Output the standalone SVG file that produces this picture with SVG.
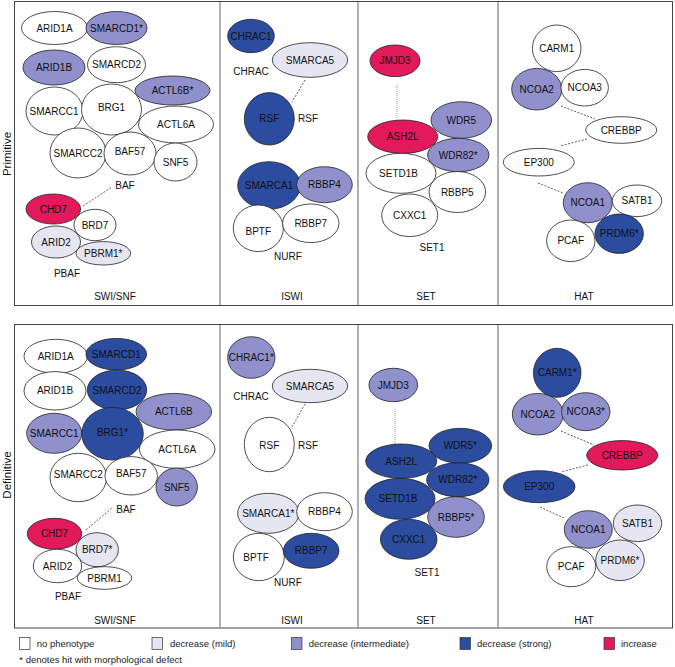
<svg xmlns="http://www.w3.org/2000/svg" width="675" height="667" viewBox="0 0 675 667">
<style>
.bg{fill:#fff}
.frame{fill:none;stroke:#444;stroke-width:1}
.div{stroke:#888;stroke-width:1.3}
ellipse{stroke:#222;stroke-width:0.8}
.n0{fill:#fff}
.n1{fill:#e6e6f3}
.n2{fill:#8f90cc}
.n3{fill:#2b4c9f}
.n4{fill:#e2195b}
text{font-family:"Liberation Sans",Arial,sans-serif;font-size:10px;fill:#111;text-anchor:middle}
.lab{font-size:10px}
.side{font-size:11.5px}
.leg{font-size:9.5px;text-anchor:start;fill:#222}
.con line{stroke:#333;stroke-width:0.8;stroke-dasharray:2,1.5}
.con line.dot{stroke:#777;stroke-dasharray:1,1}
.sw{stroke:#333;stroke-width:0.7}
</style>
<rect class="bg" x="0" y="0" width="675" height="667"/>
<!-- panels -->
<g id="panel-primitive">
<rect class="frame" x="14.5" y="1.5" width="658" height="304"/>
<line class="div" x1="220" y1="2" x2="220" y2="305"/>
<line class="div" x1="358" y1="2" x2="358" y2="305"/>
<line class="div" x1="498" y1="2" x2="498" y2="305"/>
<text class="side" transform="translate(11,154) rotate(-90)">Primitive</text>
<text class="lab" x="115" y="300">SWI/SNF</text>
<text class="lab" x="292" y="300">ISWI</text>
<text class="lab" x="426" y="300">SET</text>
<text class="lab" x="584" y="300">HAT</text>
<text class="lab" x="125" y="189">BAF</text>
<text class="lab" x="67" y="277">PBAF</text>
<text class="lab" x="251" y="75">CHRAC</text>
<text class="lab" x="308" y="122">RSF</text>
<text class="lab" x="288" y="260">NURF</text>
<text class="lab" x="432" y="251">SET1</text>
</g>
<g id="panel-definitive">
<rect class="frame" x="14.5" y="324.5" width="658" height="303.5"/>
<line class="div" x1="220" y1="325" x2="220" y2="627.5"/>
<line class="div" x1="358" y1="325" x2="358" y2="627.5"/>
<line class="div" x1="498" y1="325" x2="498" y2="627.5"/>
<text class="side" transform="translate(11,475) rotate(-90)">Definitive</text>
<text class="lab" x="115" y="624">SWI/SNF</text>
<text class="lab" x="292" y="624">ISWI</text>
<text class="lab" x="426" y="624">SET</text>
<text class="lab" x="584" y="624">HAT</text>
<text class="lab" x="126" y="513">BAF</text>
<text class="lab" x="68" y="600">PBAF</text>
<text class="lab" x="251" y="400">CHRAC</text>
<text class="lab" x="308" y="449">RSF</text>
<text class="lab" x="288" y="586">NURF</text>
<text class="lab" x="427" y="576">SET1</text>
</g>
<!-- connectors -->
<g id="connectors" class="con">
<line x1="83" y1="206" x2="112" y2="187"/>
<line x1="305" y1="80" x2="292" y2="102"/>
<line class="dot" x1="397" y1="85" x2="397" y2="118"/>
<line x1="561" y1="106" x2="595" y2="119"/>
<line x1="587" y1="139" x2="560" y2="146"/>
<line x1="538" y1="183" x2="563" y2="193"/>
<line x1="86" y1="530" x2="112" y2="508"/>
<line x1="305" y1="404" x2="292" y2="427"/>
<line class="dot" x1="395" y1="409" x2="395" y2="444"/>
<line x1="561" y1="431" x2="594" y2="445"/>
<line x1="588" y1="465" x2="561" y2="472"/>
<line x1="540" y1="507" x2="564" y2="518"/>
</g>
<!-- Primitive SWI/SNF -->
<g id="p-ARID1A"><ellipse class="n0" cx="54.5" cy="28" rx="33" ry="16.5"/><text x="54.5" y="31.5">ARID1A</text></g>
<g id="p-SMARCD1"><ellipse class="n2" cx="116.5" cy="28" rx="30.5" ry="16.5"/><text x="116.5" y="31.5">SMARCD1*</text></g>
<g id="p-ARID1B"><ellipse class="n2" cx="54" cy="67.5" rx="31" ry="17.5"/><text x="54" y="71">ARID1B</text></g>
<g id="p-SMARCD2"><ellipse class="n0" cx="116.5" cy="64.7" rx="29" ry="18"/><text x="116.5" y="68.2">SMARCD2</text></g>
<g id="p-ACTL6B"><ellipse class="n2" cx="172.5" cy="90.5" rx="37.5" ry="14.5"/><text x="172.5" y="94">ACTL6B*</text></g>
<g id="p-SMARCC1"><ellipse class="n0" cx="54.5" cy="111" rx="28.5" ry="24"/><text x="54" y="114.5">SMARCC1</text></g>
<g id="p-BRG1"><ellipse class="n0" cx="111.5" cy="109.5" rx="30" ry="25.5"/><text x="111.5" y="111">BRG1</text></g>
<g id="p-ACTL6A"><ellipse class="n0" cx="176" cy="124.5" rx="37.5" ry="18.5"/><text x="176" y="128">ACTL6A</text></g>
<g id="p-SMARCC2"><ellipse class="n0" cx="78" cy="153" rx="28" ry="25"/><text x="78" y="156.5">SMARCC2</text></g>
<g id="p-BAF57"><ellipse class="n0" cx="130" cy="153.5" rx="26" ry="21.5"/><text x="130" y="155">BAF57</text></g>
<g id="p-SNF5"><ellipse class="n0" cx="175.5" cy="162" rx="21.5" ry="19"/><text x="175.5" y="165.5">SNF5</text></g>
<g id="p-CHD7"><ellipse class="n4" cx="53.3" cy="209" rx="27.3" ry="15"/><text x="53.3" y="212.5">CHD7</text></g>
<g id="p-BRD7"><ellipse class="n0" cx="95" cy="225" rx="21" ry="15.7"/><text x="95" y="228.5">BRD7</text></g>
<g id="p-ARID2"><ellipse class="n1" cx="56" cy="242" rx="24.5" ry="16"/><text x="56" y="245.5">ARID2</text></g>
<g id="p-PBRM1"><ellipse class="n1" cx="103.3" cy="253.3" rx="27.3" ry="11.7"/><text x="103.3" y="256.8">PBRM1*</text></g>
<!-- Primitive ISWI -->
<g id="p-CHRAC1"><ellipse class="n3" cx="251" cy="36" rx="23.3" ry="16.7"/><text x="251" y="39.5">CHRAC1</text></g>
<g id="p-SMARCA5"><ellipse class="n1" cx="310" cy="60" rx="37.7" ry="17.3"/><text x="310" y="63.5">SMARCA5</text></g>
<g id="p-RSF"><ellipse class="n3" cx="269.3" cy="118.8" rx="25" ry="26.2"/><text x="269.3" y="122.3">RSF</text></g>
<g id="p-SMARCA1"><ellipse class="n3" cx="269" cy="185.5" rx="31.3" ry="23.8"/><text x="269" y="189">SMARCA1</text></g>
<g id="p-RBBP4"><ellipse class="n2" cx="324.5" cy="184.7" rx="27.8" ry="18"/><text x="324.5" y="188.2">RBBP4</text></g>
<g id="p-BPTF"><ellipse class="n0" cx="258.3" cy="228.3" rx="25" ry="23.3"/><text x="258.3" y="235">BPTF</text></g>
<g id="p-RBBP7"><ellipse class="n0" cx="310.8" cy="223.3" rx="28.2" ry="19.3"/><text x="310.8" y="226.8">RBBP7</text></g>
<!-- Primitive SET -->
<g id="p-JMJD3"><ellipse class="n4" cx="395" cy="60.8" rx="25" ry="15.8"/><text x="395" y="64.3">JMJD3</text></g>
<g id="p-WDR5"><ellipse class="n2" cx="461.3" cy="120" rx="30.3" ry="18.3"/><text x="461.3" y="123.5">WDR5</text></g>
<g id="p-ASH2L"><ellipse class="n4" cx="402.7" cy="136.7" rx="35" ry="16.7"/><text x="402.7" y="140.2">ASH2L</text></g>
<g id="p-WDR82"><ellipse class="n2" cx="458.3" cy="155" rx="30.7" ry="16.7"/><text x="458.3" y="158.5">WDR82*</text></g>
<g id="p-SETD1B"><ellipse class="n0" cx="401" cy="173.3" rx="35" ry="20"/><text x="398.5" y="176.8">SETD1B</text></g>
<g id="p-RBBP5"><ellipse class="n0" cx="457.3" cy="192" rx="28.3" ry="20.5"/><text x="457.3" y="195.5">RBBP5</text></g>
<g id="p-CXXC1"><ellipse class="n0" cx="409.7" cy="215.3" rx="28" ry="21.3"/><text x="409.7" y="218.8">CXXC1</text></g>
<!-- Primitive HAT -->
<g id="p-CARM1"><ellipse class="n0" cx="556.7" cy="48.3" rx="24.3" ry="23.3"/><text x="556.7" y="51.8">CARM1</text></g>
<g id="p-NCOA2"><ellipse class="n2" cx="536.7" cy="89.2" rx="25" ry="20.8"/><text x="536.7" y="92.7">NCOA2</text></g>
<g id="p-NCOA3"><ellipse class="n0" cx="584.7" cy="87.7" rx="23.7" ry="18.3"/><text x="584.7" y="91.2">NCOA3</text></g>
<g id="p-CREBBP"><ellipse class="n0" cx="621.2" cy="130" rx="35.5" ry="13.3"/><text x="621.2" y="133.5">CREBBP</text></g>
<g id="p-EP300"><ellipse class="n0" cx="538.8" cy="162.2" rx="35.5" ry="13.8"/><text x="538.8" y="165.7">EP300</text></g>
<g id="p-NCOA1"><ellipse class="n2" cx="587.8" cy="202.7" rx="24.5" ry="20"/><text x="587.8" y="206.2">NCOA1</text></g>
<g id="p-SATB1"><ellipse class="n0" cx="637" cy="200.8" rx="24.7" ry="15.8"/><text x="637" y="204.3">SATB1</text></g>
<g id="p-PCAF"><ellipse class="n0" cx="570.8" cy="240.8" rx="24.2" ry="20.8"/><text x="570.8" y="244.3">PCAF</text></g>
<g id="p-PRDM6"><ellipse class="n3" cx="619.2" cy="233.7" rx="24.2" ry="19.7"/><text x="619.2" y="237.2">PRDM6*</text></g>
<!-- Definitive SWI/SNF -->
<g id="d-ARID1A"><ellipse class="n0" cx="55.7" cy="356.3" rx="31.7" ry="17"/><text x="55.7" y="359.8">ARID1A</text></g>
<g id="d-SMARCD1"><ellipse class="n3" cx="116.3" cy="354.2" rx="30.3" ry="15.8"/><text x="116.3" y="357.7">SMARCD1</text></g>
<g id="d-ARID1B"><ellipse class="n0" cx="55" cy="390.8" rx="31" ry="19.2"/><text x="55" y="394.3">ARID1B</text></g>
<g id="d-SMARCD2"><ellipse class="n3" cx="117" cy="390" rx="29.7" ry="20"/><text x="117" y="393.5">SMARCD2</text></g>
<g id="d-ACTL6B"><ellipse class="n2" cx="173.8" cy="411.7" rx="37.8" ry="18.3"/><text x="173.8" y="415.2">ACTL6B</text></g>
<g id="d-SMARCC1"><ellipse class="n2" cx="54.2" cy="433.3" rx="27.5" ry="20"/><text x="54.2" y="436.8">SMARCC1</text></g>
<g id="d-BRG1"><ellipse class="n3" cx="112.5" cy="433.7" rx="30.8" ry="26.3"/><text x="112.5" y="435.5">BRG1*</text></g>
<g id="d-ACTL6A"><ellipse class="n0" cx="177.2" cy="449.2" rx="37.8" ry="19.2"/><text x="177.2" y="452.7">ACTL6A</text></g>
<g id="d-SMARCC2"><ellipse class="n0" cx="78.3" cy="477.5" rx="28.3" ry="24.2"/><text x="78.3" y="478">SMARCC2</text></g>
<g id="d-BAF57"><ellipse class="n0" cx="131.2" cy="475.8" rx="26.2" ry="19.2"/><text x="131.2" y="477">BAF57</text></g>
<g id="d-SNF5"><ellipse class="n2" cx="176.7" cy="487" rx="20.7" ry="19"/><text x="176.7" y="490.5">SNF5</text></g>
<g id="d-CHD7"><ellipse class="n4" cx="54.5" cy="533.8" rx="27.2" ry="15.5"/><text x="54.5" y="537.3">CHD7</text></g>
<g id="d-BRD7"><ellipse class="n1" cx="97.2" cy="549.7" rx="21.2" ry="17"/><text x="97.2" y="553.2">BRD7*</text></g>
<g id="d-ARID2"><ellipse class="n0" cx="57.5" cy="566" rx="24.2" ry="16.7"/><text x="57.5" y="569.5">ARID2</text></g>
<g id="d-PBRM1"><ellipse class="n0" cx="104.5" cy="578" rx="27.2" ry="11.3"/><text x="104.5" y="581.5">PBRM1</text></g>
<!-- Definitive ISWI -->
<g id="d-CHRAC1"><ellipse class="n2" cx="251.3" cy="357.5" rx="23.7" ry="20.8"/><text x="251.3" y="361">CHRAC1*</text></g>
<g id="d-SMARCA5"><ellipse class="n1" cx="310" cy="386" rx="37.7" ry="16.7"/><text x="310" y="389.5">SMARCA5</text></g>
<g id="d-RSF"><ellipse class="n0" cx="269.3" cy="444.5" rx="25" ry="27.2"/><text x="269.3" y="449">RSF</text></g>
<g id="d-SMARCA1"><ellipse class="n1" cx="268.3" cy="513.3" rx="30.7" ry="20"/><text x="268.3" y="516.8">SMARCA1*</text></g>
<g id="d-RBBP4"><ellipse class="n0" cx="324.5" cy="511.7" rx="27.8" ry="19"/><text x="324.5" y="515.2">RBBP4</text></g>
<g id="d-BPTF"><ellipse class="n0" cx="258.8" cy="557" rx="25.5" ry="23.7"/><text x="256" y="560.5">BPTF</text></g>
<g id="d-RBBP7"><ellipse class="n3" cx="311.2" cy="550.8" rx="27.8" ry="17.5"/><text x="311.2" y="554.3">RBBP7</text></g>
<!-- Definitive SET -->
<g id="d-JMJD3"><ellipse class="n2" cx="393.3" cy="385" rx="24.3" ry="16.7"/><text x="393.3" y="388.5">JMJD3</text></g>
<g id="d-WDR5"><ellipse class="n3" cx="460.3" cy="445.8" rx="31.3" ry="17.5"/><text x="460.3" y="449.3">WDR5*</text></g>
<g id="d-ASH2L"><ellipse class="n3" cx="401.2" cy="461.2" rx="35.5" ry="17.2"/><text x="401.2" y="464.7">ASH2L</text></g>
<g id="d-WDR82"><ellipse class="n3" cx="457.8" cy="479.7" rx="31.2" ry="17"/><text x="457.8" y="483.2">WDR82*</text></g>
<g id="d-SETD1B"><ellipse class="n3" cx="400" cy="498.8" rx="35" ry="20.5"/><text x="398" y="502.3">SETD1B</text></g>
<g id="d-RBBP5"><ellipse class="n2" cx="456" cy="517" rx="28.3" ry="20.3"/><text x="456" y="520.5">RBBP5*</text></g>
<g id="d-CXXC1"><ellipse class="n3" cx="408.7" cy="539.3" rx="28.3" ry="20"/><text x="408.7" y="542.8">CXXC1</text></g>
<!-- Definitive HAT -->
<g id="d-CARM1"><ellipse class="n3" cx="557.2" cy="372.8" rx="23.8" ry="24.5"/><text x="557.2" y="376.3">CARM1*</text></g>
<g id="d-NCOA2"><ellipse class="n2" cx="537.8" cy="414.2" rx="25.5" ry="20.8"/><text x="537.8" y="417.7">NCOA2</text></g>
<g id="d-NCOA3"><ellipse class="n2" cx="585.8" cy="411.7" rx="24.2" ry="19"/><text x="585.8" y="415.2">NCOA3*</text></g>
<g id="d-CREBBP"><ellipse class="n4" cx="622.2" cy="455.3" rx="35.5" ry="14.7"/><text x="622.2" y="458.8">CREBBP</text></g>
<g id="d-EP300"><ellipse class="n3" cx="539.2" cy="486.7" rx="35.8" ry="16"/><text x="539.2" y="490.2">EP300</text></g>
<g id="d-NCOA1"><ellipse class="n2" cx="588.3" cy="529.5" rx="24" ry="18.8"/><text x="588.3" y="533">NCOA1</text></g>
<g id="d-SATB1"><ellipse class="n1" cx="637.5" cy="523.3" rx="24.2" ry="18.3"/><text x="637.5" y="526.8">SATB1</text></g>
<g id="d-PCAF"><ellipse class="n0" cx="571.2" cy="566.7" rx="24.5" ry="20"/><text x="571.2" y="570.2">PCAF</text></g>
<g id="d-PRDM6"><ellipse class="n1" cx="620" cy="560.3" rx="24.3" ry="20.3"/><text x="620" y="563.8">PRDM6*</text></g>
<!-- legend -->
<g id="legend">
<rect class="n0 sw" x="19.5" y="637.5" width="10.5" height="12"/>
<text class="leg" x="36.7" y="647">no phenotype</text>
<rect class="n1 sw" x="152" y="637.5" width="10.5" height="12"/>
<text class="leg" x="170" y="647">decrease (mild)</text>
<rect class="n2 sw" x="291.5" y="637.5" width="10.5" height="12"/>
<text class="leg" x="308.7" y="647">decrease (intermediate)</text>
<rect class="n3 sw" x="460" y="637.5" width="10.5" height="12"/>
<text class="leg" x="477" y="647">decrease (strong)</text>
<rect class="n4 sw" x="604" y="637.5" width="10.5" height="12"/>
<text class="leg" x="621" y="647">increase</text>
<text class="leg" x="19.3" y="663">* denotes hit with morphological defect</text>
</g>
</svg>
